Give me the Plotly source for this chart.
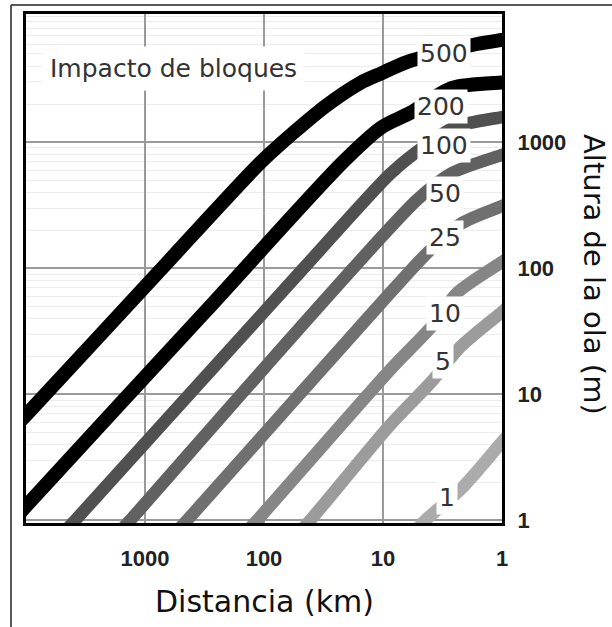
import math
import plotly.graph_objects as go

# ---------------- data ----------------
# distance in km, wave height in m, one pair of lists per impactor size
DIST_500 = [13000, 10000, 780, 108, 57, 29.6, 15.6, 10.2, 6.3, 1.62, 1.0, 0.8]
H_500 = [5.3, 6.85, 92, 683, 1181, 1968, 2943, 3532, 4315, 5998, 6457, 6680]

DIST_200 = [16000, 10000, 319, 21.7, 10.2, 5.93, 2.63, 1.0, 0.8]
H_200 = [0.78, 1.30, 44.1, 695, 1318, 1702, 2690, 2966, 3000]

DIST_100 = [4840, 3870, 48, 8.73, 5.38, 2.48, 1.0, 0.8]
H_100 = [0.8, 1.0, 96.8, 558, 820, 1318, 1581, 1652]

DIST_50 = [1670, 1337, 5.18, 2.63, 1.0, 0.8]
H_50 = [0.8, 1.0, 348, 569, 791, 851]

DIST_25 = [555, 444, 8.73, 4.03, 2.17, 1.0, 0.8]
H_25 = [0.8, 1.0, 63.6, 139, 228, 311, 340]

DIST_10 = [143, 114.6, 8.73, 3.87, 2.39, 1.0, 0.8]
H_10 = [0.8, 1.0, 15.6, 34.8, 63.6, 112, 129]

DIST_5 = [51, 41, 8.73, 3.80, 2.25, 1.0, 0.8]
H_5 = [0.8, 1.0, 5.71, 13.0, 23.7, 45.0, 53.5]

DIST_1 = [5.5, 4.43, 2.17, 1.0, 0.8]
H_1 = [0.8, 1.0, 1.81, 4.19, 5.3]

SERIES_LABELS = ["500", "200", "100", "50", "25", "10", "5", "1"]
X_TICKS = [1000, 100, 10, 1]
Y_TICKS = [1, 10, 100, 1000]

TITLE_TEXT = "Impacto de bloques"
X_TITLE = "Distancia (km)"
Y_TITLE = "Altura de la ola (m)"

# ---------------- styles / layout ----------------
SERIES = [
    (DIST_500, H_500), (DIST_200, H_200), (DIST_100, H_100), (DIST_50, H_50),
    (DIST_25, H_25), (DIST_10, H_10), (DIST_5, H_5), (DIST_1, H_1),
]
COLORS = ["#000000", "#000000", "#505050", "#616161", "#707070", "#868686", "#9b9b9b", "#ababab"]
WIDTHS = [14, 14, 12.5, 12.5, 12.5, 12.5, 12.5, 12.5]
# label anchor (log10 distance, log10 height)
LABEL_POS = [(0.487, 3.699), (0.513, 3.286), (0.487, 2.977), (0.479, 2.596),
             (0.479, 2.240), (0.479, 1.645), (0.496, 1.264), (0.462, 0.186)]

W, H = 612, 627
ML, MR, MT, MB = 26, 110, 14, 104
PW, PH = W - ML - MR, H - MT - MB

def px_x(px):
    return (px - ML) / PW

def px_y(py):
    return (H - MB - py) / PH

TEXT_FONT = "DejaVu Sans"

fig = go.Figure()
for (d, h), c, w in zip(SERIES, COLORS, WIDTHS):
    fig.add_trace(go.Scatter(x=d, y=h, mode="lines",
                             line=dict(color=c, width=w, shape="spline", smoothing=0.8),
                             hoverinfo="skip", showlegend=False))

annotations = []
for lab, (lx, ly) in zip(SERIES_LABELS, LABEL_POS):
    annotations.append(dict(x=lx, y=ly, xref="x", yref="y", text=lab,
                            showarrow=False, bgcolor="white", borderpad=2,
                            font=dict(family=TEXT_FONT, size=25, color="#333333"),
                            xanchor="center", yanchor="middle"))

annotations.append(dict(x=px_x(173), y=px_y(68), xref="paper", yref="paper",
                        text=TITLE_TEXT, showarrow=False, bgcolor="white", borderpad=7,
                        font=dict(family=TEXT_FONT, size=25, color="#333333"),
                        xanchor="center", yanchor="middle"))
annotations.append(dict(x=px_x(264), y=px_y(601), xref="paper", yref="paper",
                        text=X_TITLE, showarrow=False,
                        font=dict(family=TEXT_FONT, size=30, color="#111111"),
                        xanchor="center", yanchor="middle"))
annotations.append(dict(x=px_x(594), y=px_y(274), xref="paper", yref="paper",
                        text=Y_TITLE, showarrow=False, textangle=90,
                        font=dict(family=TEXT_FONT, size=29, color="#111111"),
                        xanchor="center", yanchor="middle"))

shapes = [
    dict(type="line", xref="paper", yref="paper", x0=px_x(11), x1=px_x(640),
         y0=px_y(5), y1=px_y(5), line=dict(color="#222222", width=1.5), layer="above"),
    dict(type="line", xref="paper", yref="paper", x0=px_x(11), x1=px_x(11),
         y0=px_y(5), y1=px_y(660), line=dict(color="#222222", width=1.5), layer="above"),
]

tick_font = dict(family="Liberation Sans", size=22, color="#222222", weight="bold")

fig.update_layout(
    width=W, height=H,
    margin=dict(l=ML, r=MR, t=MT, b=MB, pad=0),
    paper_bgcolor="white", plot_bgcolor="white",
    annotations=annotations, shapes=shapes,
    xaxis=dict(type="log", range=[4, 0], tickvals=X_TICKS,
               ticktext=[str(v) for v in X_TICKS],
               showgrid=True, gridcolor="#9a9a9a", gridwidth=2,
               showline=True, linecolor="black", linewidth=3, mirror=True,
               ticks="outside", ticklen=14, tickcolor="rgba(0,0,0,0)",
               tickfont=tick_font, zeroline=False, automargin=False,
               layer="above traces"),
    yaxis=dict(type="log", range=[-0.02, 4.016], side="right", tickvals=Y_TICKS,
               ticktext=[str(v) for v in Y_TICKS],
               showgrid=True, gridcolor="#9a9a9a", gridwidth=2,
               minor=dict(showgrid=True, gridcolor="#ececec", gridwidth=1, dtick="D1"),
               showline=True, linecolor="black", linewidth=3, mirror=True,
               ticks="outside", ticklen=8, tickcolor="rgba(0,0,0,0)",
               tickfont=tick_font, zeroline=False, automargin=False,
               layer="above traces"),
)

fig.write_html("out.html")
